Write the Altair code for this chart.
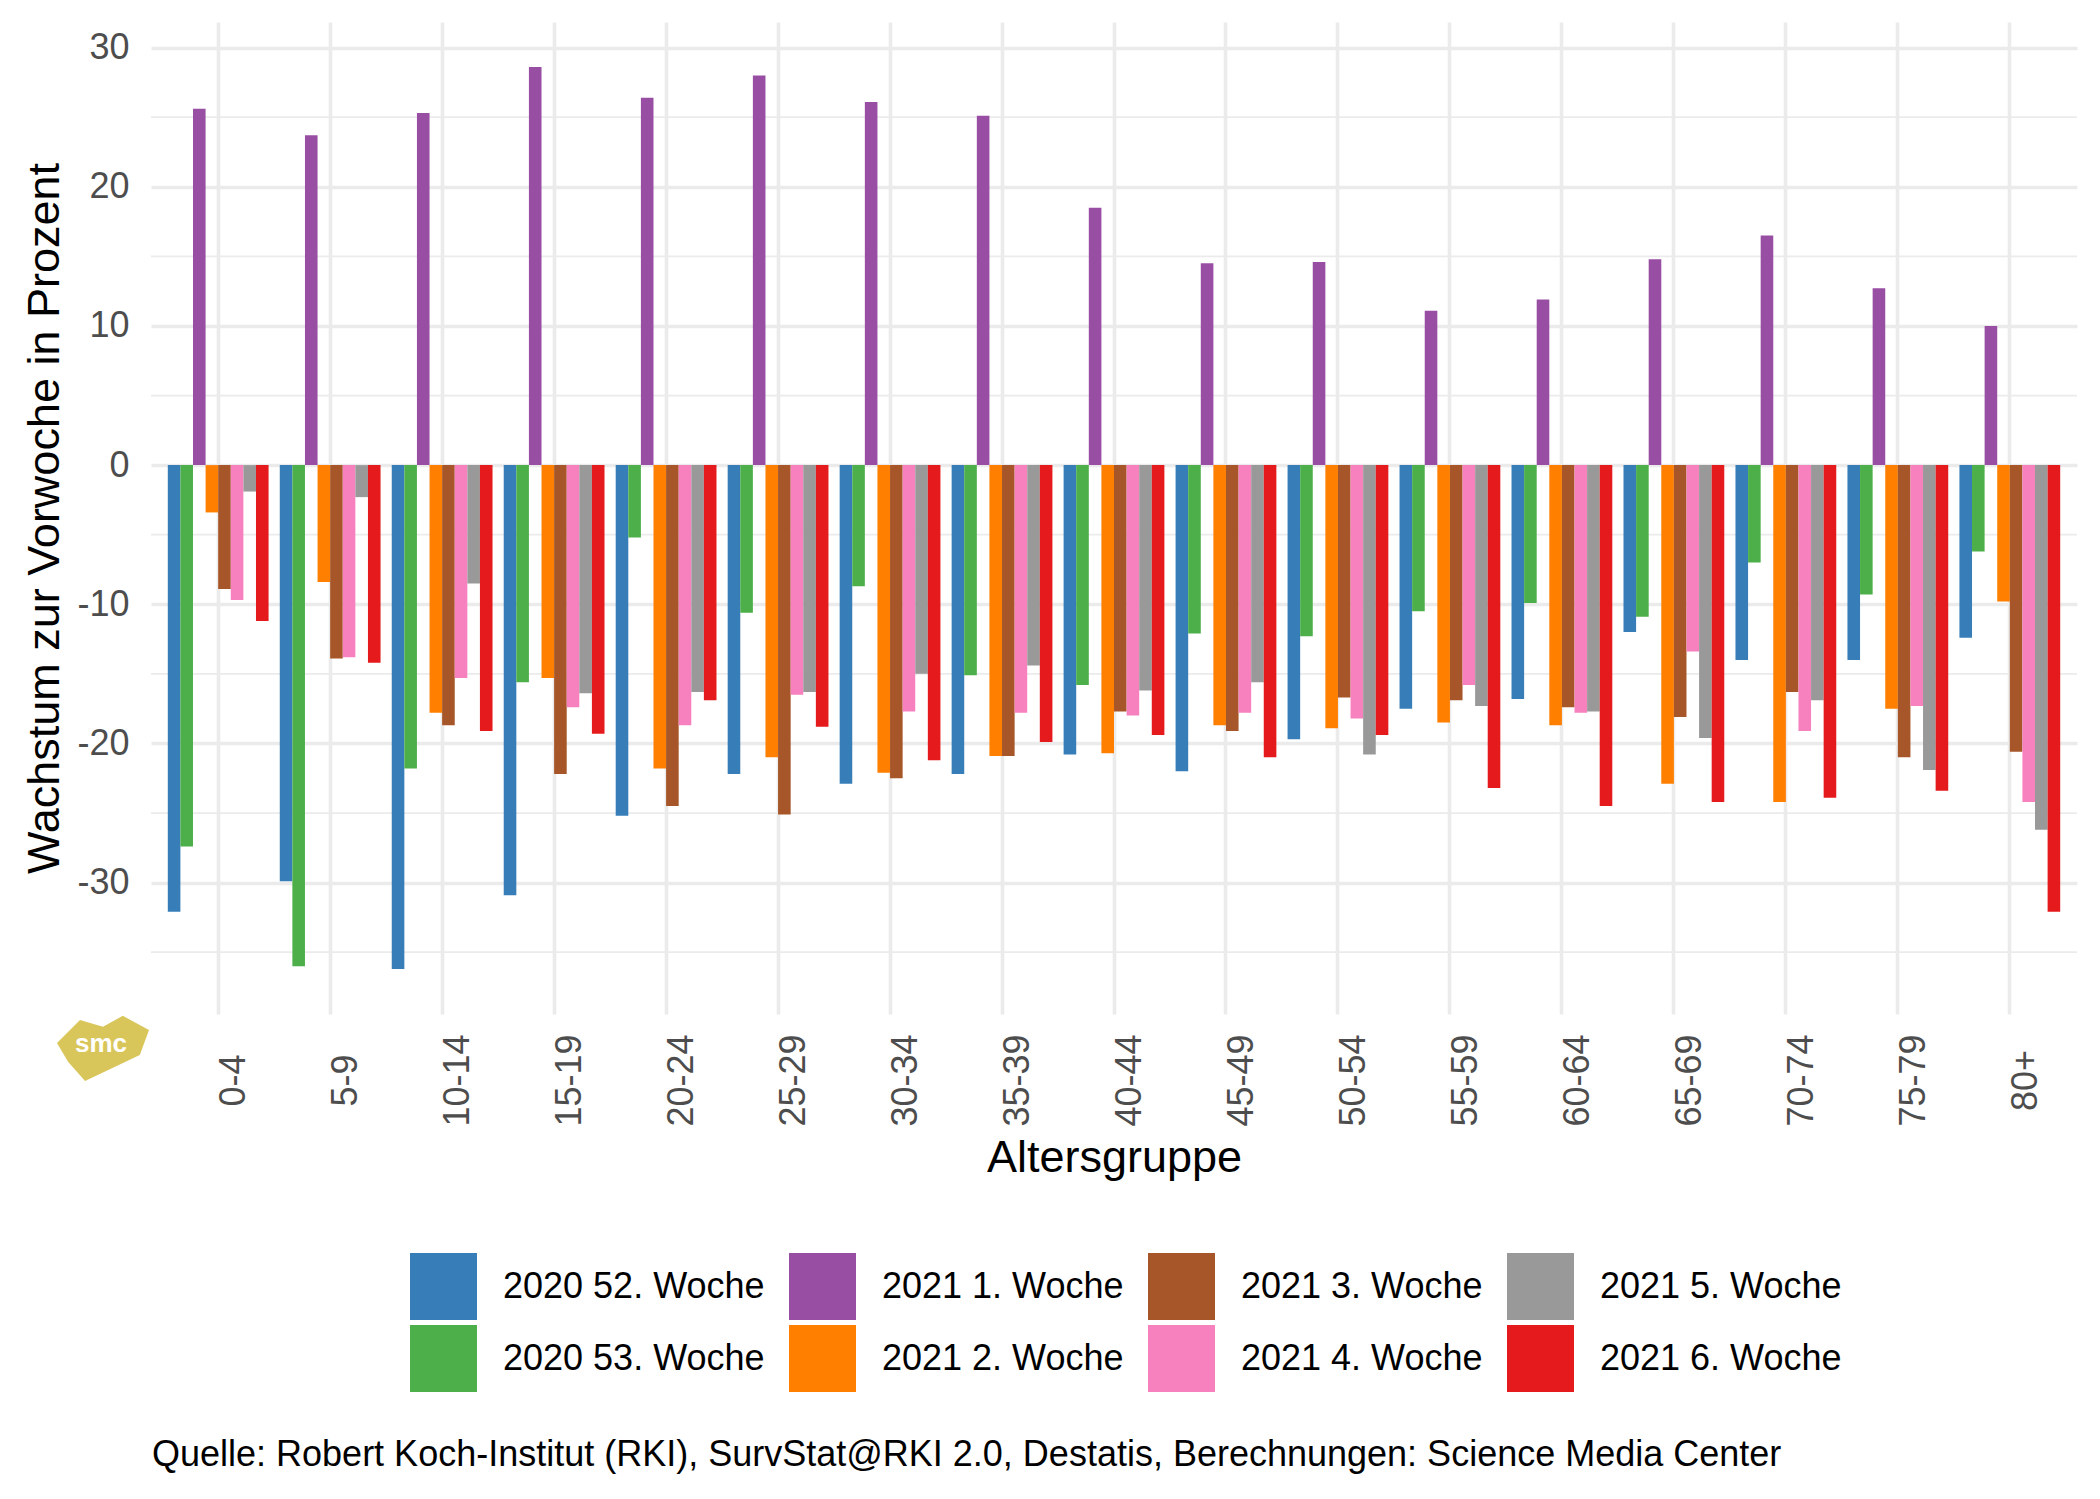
import altair as alt
import pandas as pd

# ---------------- data ----------------
age_groups = ["0-4", "5-9", "10-14", "15-19", "20-24", "25-29", "30-34", "35-39",
              "40-44", "45-49", "50-54", "55-59", "60-64", "65-69", "70-74", "75-79", "80+"]

series_order = ["2020 52. Woche", "2020 53. Woche", "2021 1. Woche", "2021 2. Woche",
                "2021 3. Woche", "2021 4. Woche", "2021 5. Woche", "2021 6. Woche"]

w2020_52 = [-32.1, -29.9, -36.2, -30.9, -25.2, -22.2, -22.9, -22.2, -20.8, -22.0, -19.7, -17.5, -16.8, -12.0, -14.0, -14.0, -12.4]
w2020_53 = [-27.4, -36.0, -21.8, -15.6, -5.2, -10.6, -8.7, -15.1, -15.8, -12.1, -12.3, -10.5, -9.9, -10.9, -7.0, -9.3, -6.2]
w2021_1 = [25.6, 23.7, 25.3, 28.6, 26.4, 28.0, 26.1, 25.1, 18.5, 14.5, 14.6, 11.1, 11.9, 14.8, 16.5, 12.7, 10.0]
w2021_2 = [-3.4, -8.4, -17.8, -15.3, -21.8, -21.0, -22.1, -20.9, -20.7, -18.7, -18.9, -18.5, -18.7, -22.9, -24.2, -17.5, -9.8]
w2021_3 = [-8.9, -13.9, -18.7, -22.2, -24.5, -25.1, -22.5, -20.9, -17.7, -19.1, -16.7, -16.9, -17.4, -18.1, -16.3, -21.0, -20.6]
w2021_4 = [-9.7, -13.8, -15.3, -17.4, -18.7, -16.5, -17.7, -17.8, -18.0, -17.8, -18.2, -15.8, -17.8, -13.4, -19.1, -17.3, -24.2]
w2021_5 = [-1.9, -2.3, -8.5, -16.4, -16.3, -16.3, -15.0, -14.4, -16.2, -15.6, -20.8, -17.3, -17.7, -19.6, -16.9, -21.9, -26.2]
w2021_6 = [-11.2, -14.2, -19.1, -19.3, -16.9, -18.8, -21.2, -19.9, -19.4, -21.0, -19.4, -23.2, -24.5, -24.2, -23.9, -23.4, -32.1]

series_values = [w2020_52, w2020_53, w2021_1, w2021_2, w2021_3, w2021_4, w2021_5, w2021_6]
series_colors = ["#377EB8", "#4DAF4A", "#984EA3", "#FF7F00", "#A65628", "#F781BF", "#999999", "#E41A1C"]

y_ticks = [-30, -20, -10, 0, 10, 20, 30]
y_minor = [-35, -25, -15, -5, 5, 15, 25]
y_domain = [-39.44, 31.84]

caption = "Quelle: Robert Koch-Institut (RKI), SurvStat@RKI 2.0, Destatis, Berechnungen: Science Media Center"
logo_text = "smc"

rows = []
for s, vals in zip(series_order, series_values):
    for a, v in zip(age_groups, vals):
        rows.append({"Altersgruppe": a, "Woche": s, "Wert": v})
df = pd.DataFrame(rows)

FONT = "Liberation Sans"
W, H = 1926, 992

yscale = alt.Scale(domain=y_domain, nice=False, zero=False)

minor = alt.Chart(pd.DataFrame({"v": y_minor})).mark_rule(
    color="#EBEBEB", strokeWidth=1.8
).encode(y=alt.Y("v:Q", scale=yscale))

bars = alt.Chart(df).mark_bar(strokeWidth=0).encode(
    x=alt.X(
        "Altersgruppe:N",
        sort=age_groups,
        scale=alt.Scale(paddingInner=0.1, paddingOuter=0.15),
        axis=alt.Axis(
            title="Altersgruppe",
            titleFontSize=45, titleFont=FONT, titleFontWeight="normal", titleColor="#000000",
            titleY=157, titleBaseline="alphabetic", titleAlign="center",
            labelFont=FONT, labelFontSize=36, labelColor="#4D4D4D",
            labelAngle=270, labelAlign="center", labelBaseline="top",
            labelPadding=66, labelOffset=-1,
            ticks=False, tickSize=0, domain=False,
            grid=True, gridColor="#EBEBEB", gridWidth=3.6, bandPosition=0.5,
        ),
    ),
    xOffset=alt.XOffset("Woche:N", sort=series_order, scale=alt.Scale(paddingInner=0, paddingOuter=0)),
    y=alt.Y(
        "Wert:Q",
        scale=yscale,
        axis=alt.Axis(
            title="Wachstum zur Vorwoche in Prozent",
            titleFontSize=45, titleFont=FONT, titleFontWeight="normal", titleColor="#000000",
            titleX=-93, titleY=H / 2, titleAngle=270, titleBaseline="alphabetic", titleAlign="center",
            values=y_ticks, labelExpr="'' + datum.value",
            labelFont=FONT, labelFontSize=36, labelColor="#4D4D4D", labelPadding=22,
            ticks=False, tickSize=0, domain=False,
            grid=True, gridColor="#EBEBEB", gridWidth=3.4,
        ),
    ),
    color=alt.Color(
        "Woche:N",
        scale=alt.Scale(domain=series_order, range=series_colors),
        legend=alt.Legend(
            title=None, orient="none", legendX=259, legendY=1231,
            columns=4, symbolType="square", symbolSize=4489, symbolStrokeWidth=0,
            symbolOpacity=1,
            labelFont=FONT, labelFontSize=36, labelColor="#000000", labelOffset=26,
            labelLimit=500, columnPadding=24, rowPadding=5, padding=0,
        ),
    ),
)

logo_shape = ("M -1 -0.11 L -0.5 -0.61 L 0 -0.46 L 0.43 -0.7 L 1 -0.39 "
              "L 0.8 0.15 L -0.39 0.72 L -0.76 0.3 Z")
logo = alt.Chart(pd.DataFrame({"t": [logo_text]})).mark_point(
    shape=logo_shape, filled=True, color="#D9C65A", opacity=1, size=8464
).encode(x=alt.value(-48), y=alt.value(1026))

logo_txt = alt.Chart(pd.DataFrame({"t": [logo_text]})).mark_text(
    font=FONT, fontSize=26, fontWeight="bold", color="#FFFFFF", align="center", baseline="middle"
).encode(text="t:N", x=alt.value(-50), y=alt.value(1022))

cap = alt.Chart(pd.DataFrame({"t": [caption]})).mark_text(
    font=FONT, fontSize=36, color="#000000", align="left", baseline="alphabetic"
).encode(text="t:N", x=alt.value(1), y=alt.value(1444))

chart = alt.layer(minor, bars, logo, logo_txt, cap).properties(
    width=W, height=H,
    padding={"left": 143, "top": 14, "right": 15, "bottom": 477},
    autosize=alt.AutoSizeParams(type="none"),
).configure(background="#FFFFFF").configure_view(strokeWidth=0)

chart.save("out.html", embed_options={"renderer": "svg", "actions": False})
